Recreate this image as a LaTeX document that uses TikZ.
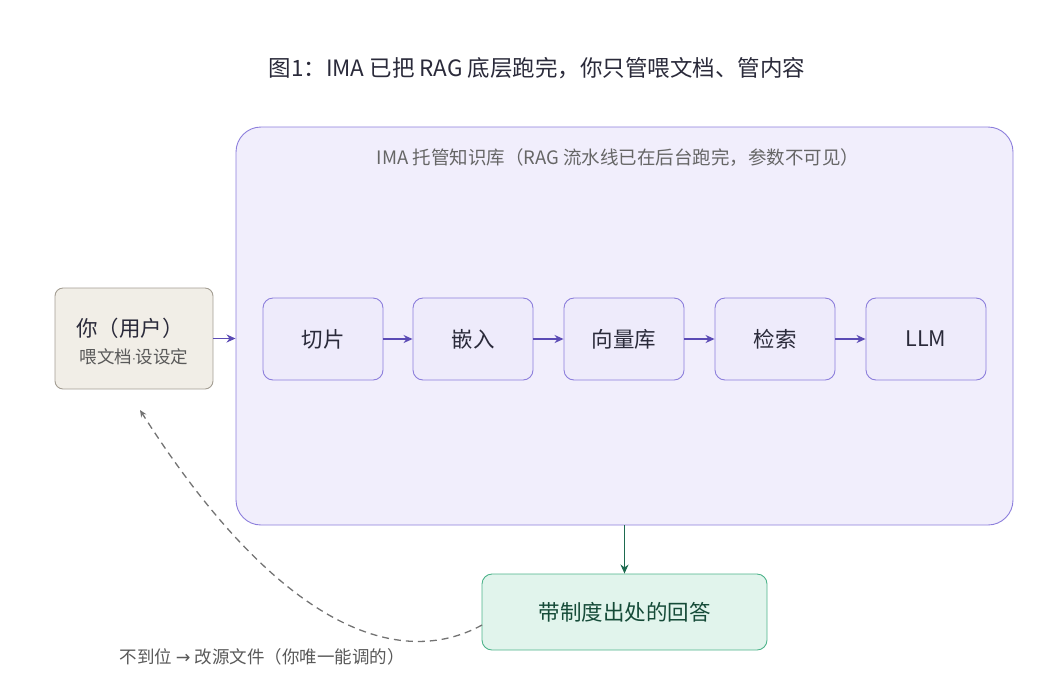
\documentclass[tikz,border=0pt]{standalone}
\usepackage{fontspec}
\setmainfont{Noto Sans CJK SC}
\usetikzlibrary{arrows.meta}
\definecolor{pfill}{HTML}{EEEBFB}
\definecolor{pline}{HTML}{8C7EDC}
\definecolor{parrow}{HTML}{5B4BB5}
\definecolor{ufill}{HTML}{F1EEE7}
\definecolor{uline}{HTML}{A39D92}
\definecolor{afill}{HTML}{E1F4EC}
\definecolor{aline}{HTML}{4DB38A}
\definecolor{garrow}{HTML}{1E6B50}
\definecolor{txt}{HTML}{2A2A3A}
\begin{document}
\begin{tikzpicture}[x=1pt,y=-1pt,
 pstep/.style={draw=pline,fill=pfill,rounded corners=10,minimum width=120,minimum height=82,inner sep=0,font=\fontsize{21.5}{24}\selectfont,text=txt,line width=0.9},
 parr/.style={-{Stealth[length=9,width=8]},draw=parrow,line width=1.8}]
\useasboundingbox (0,0) rectangle (1064,686);
\node[font=\fontsize{22.5}{26}\selectfont,text=txt] (title) at (537,68) {图1：IMA 已把 RAG 底层跑完，你只管喂文档、管内容};
\node[draw=pline,fill=pfill!85,rounded corners=25,minimum width=777,minimum height=398,inner sep=0,line width=0.9] (box) at (624.5,326) {};
\node[font=\fontsize{18.5}{21}\selectfont,text=black!60] (boxl) at (618,158) {IMA 托管知识库（RAG 流水线已在后台跑完，参数不可见）};
\node[draw=uline,fill=ufill,rounded corners=8,minimum width=158,minimum height=101,inner sep=0,line width=0.9] (user) at (134,338.5) {};
\node[font=\fontsize{21.5}{24}\selectfont,text=txt] (u1) at (130,328) {你（用户）};
\node[font=\fontsize{17.5}{20}\selectfont,text=black!65] (u2) at (134,357) {喂文档{\fontspec{DejaVu Sans}\fontsize{12}{14}\selectfont·}设设定};
\node[pstep] (s1) at (323,339) {切片};
\node[pstep] (s2) at (473,339) {嵌入};
\node[pstep] (s3) at (624,339) {向量库};
\node[pstep] (s4) at (775,339) {检索};
\node[pstep] (s5) at (926,339) {LLM};
\draw[parr] (user.east) -- (box.west |- user.east);
\draw[parr] (s1) -- (s2);
\draw[parr] (s2) -- (s3);
\draw[parr] (s3) -- (s4);
\draw[parr] (s4) -- (s5);
\node[draw=aline,fill=afill,rounded corners=10,minimum width=285,minimum height=76,inner sep=0,line width=0.9,font=\fontsize{21.5}{24}\selectfont,text=garrow!70!black] (ans) at (624.5,612) {带制度出处的回答};
\draw[-{Stealth[length=9,width=8]},draw=garrow,line width=1.8] (box.south -| ans.north) -- (ans.north);
\coordinate (tip) at (140,410);
\draw[-{Stealth[length=7,width=6]},draw=black!55,line width=1.3,dash pattern=on 7 off 5] (482,625) .. controls (400,670) and (280,630) .. (tip);
\node[font=\fontsize{17.5}{20}\selectfont,text=black!65] (lbl) at (262,657) {不到位 {\fontspec{DejaVu Sans}→} 改源文件（你唯一能调的）};
\end{tikzpicture}
\end{document}
